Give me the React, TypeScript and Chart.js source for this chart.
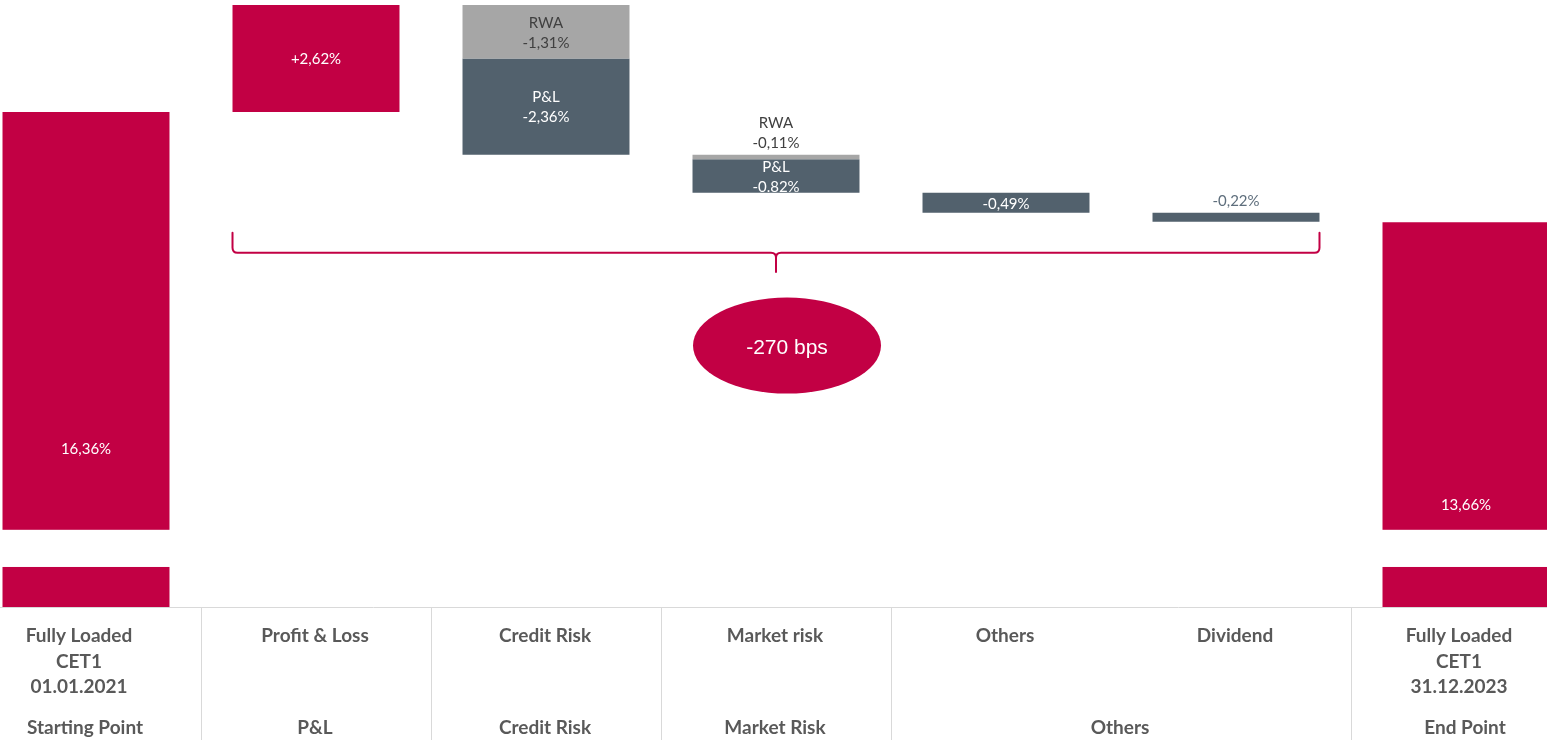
import React, { useEffect, useRef } from "react";
import { Chart, registerables } from "chart.js";

Chart.register(...registerables);

// ---------- data ----------
const categoryLabels: string[][] = [
  ["Fully Loaded", "CET1", "01.01.2021"],
  ["Profit & Loss"],
  ["Credit Risk"],
  ["Market risk"],
  ["Others"],
  ["Dividend"],
  ["Fully Loaded", "CET1", "31.12.2023"],
];
const groupLabels: string[] = ["Starting Point", "P&L", "Credit Risk", "Market Risk", "Others", "End Point"];
const groupSpans: number[] = [1, 1, 1, 1, 2, 1];

const startValue = 16.36;
const endValue = 13.66;
const levelLabels: (string | null)[] = ["16,36%", null, null, null, null, null, "13,66%"];

const rwaDeltas: (number | null)[] = [null, null, -1.31, -0.11, null, null, null];
const rwaLabels: (string | null)[] = [null, null, "-1,31%", "-0,11%", null, null, null];
const rwaTitles: (string | null)[] = [null, null, "RWA", "RWA", null, null, null];

const pnlDeltas: (number | null)[] = [null, 2.62, -2.36, -0.82, -0.49, -0.22, null];
const pnlLabels: (string | null)[] = [null, "+2,62%", "-2,36%", "-0.82%", "-0,49%", "-0,22%", null];
const pnlTitles: (string | null)[] = [null, null, "P&L", "P&L", null, null, null];

const totalLabel = "-270 bps";

// ---------- style / layout config ----------
const CRIMSON = "#C20044";
const SLATE = "#52616D";
const GREY = "#A6A6A6";
const Y_MIN = 4.24;
const Y_MAX = 19.1;
const BREAK_LOW = 5.22;
const BREAK_HIGH = 6.13;
const LEVEL_LABEL_AT: Record<number, number> = { 0: 8.13, 6: 6.76 };
const BRACKET = { top: 13.4, line: 12.91, tip: 12.44 };
const BUBBLE = { y: 10.64, rx: 94, ry: 48, dx: 11 };
const VALUE_FONT = '15px Lato';
const CAT_FONT = 'bold 19px Lato';

// build floating bars from the deltas
const n = categoryLabels.length;
const levelBars: ([number, number] | null)[] = new Array(n).fill(null);
const rwaBars: ([number, number] | null)[] = new Array(n).fill(null);
const pnlBars: ([number, number] | null)[] = new Array(n).fill(null);
levelBars[0] = [Y_MIN, startValue];
levelBars[n - 1] = [Y_MIN, endValue];
{
  let level = startValue;
  for (let i = 0; i < n; i++) {
    const r = rwaDeltas[i];
    if (r != null) {
      rwaBars[i] = [Math.min(level, level + r), Math.max(level, level + r)];
      level += r;
    }
    const p = pnlDeltas[i];
    if (p != null) {
      pnlBars[i] = [Math.min(level, level + p), Math.max(level, level + p)];
      level += p;
    }
  }
}

const overlayPlugin = {
  id: "overlay",
  afterDraw(chart: any) {
    const ctx: CanvasRenderingContext2D = chart.ctx;
    const area = chart.chartArea;
    const yS = chart.scales.y;
    const xS = chart.scales.x;
    const H = chart.height;
    const W = chart.width;
    ctx.save();

    // axis line & table separators
    ctx.strokeStyle = "#D9D9D9";
    ctx.lineWidth = 1;
    ctx.beginPath();
    ctx.moveTo(0, Math.round(area.bottom) + 0.5);
    ctx.lineTo(W, Math.round(area.bottom) + 0.5);
    let idx = 0;
    for (let g = 0; g < groupSpans.length - 1; g++) {
      idx += groupSpans[g];
      const xb = Math.round((xS.getPixelForValue(idx - 1) + xS.getPixelForValue(idx)) / 2) + 0.5;
      ctx.moveTo(xb, area.bottom);
      ctx.lineTo(xb, H);
    }
    ctx.stroke();

    // category labels
    ctx.fillStyle = "#595959";
    ctx.font = CAT_FONT;
    ctx.textAlign = "center";
    ctx.textBaseline = "middle";
    categoryLabels.forEach((lines, i) => {
      const x = xS.getPixelForValue(i) + (lines.length > 1 ? -7 : -1);
      lines.forEach((t, k) => ctx.fillText(t, x, area.bottom + 29 + k * 25.5));
    });
    idx = 0;
    groupLabels.forEach((t, g) => {
      const a = xS.getPixelForValue(idx);
      const b = xS.getPixelForValue(idx + groupSpans[g] - 1);
      ctx.fillText(t, (a + b) / 2 - 1, area.bottom + 121);
      idx += groupSpans[g];
    });

    // axis break on level bars
    const metaLevel = chart.getDatasetMeta(0);
    const yb1 = yS.getPixelForValue(BREAK_HIGH);
    const yb2 = yS.getPixelForValue(BREAK_LOW);
    metaLevel.data.forEach((el: any, i: number) => {
      if (!levelBars[i]) return;
      const p = el.getProps(["x", "width"], true);
      ctx.fillStyle = "#FFFFFF";
      ctx.fillRect(p.x - p.width / 2 - 1, yb1, p.width + 2, yb2 - yb1);
    });

    // value labels
    ctx.font = VALUE_FONT;
    metaLevel.data.forEach((el: any, i: number) => {
      const t = levelLabels[i];
      if (!t) return;
      const p = el.getProps(["x"], true);
      ctx.fillStyle = "#FFFFFF";
      ctx.fillText(t, p.x, yS.getPixelForValue(LEVEL_LABEL_AT[i]) + 1);
    });
    const drawSeg = (metaIndex: number, labels: (string | null)[], titles: (string | null)[], inColor: (i: number) => string, outColor: string) => {
      const meta = chart.getDatasetMeta(metaIndex);
      meta.data.forEach((el: any, i: number) => {
        const t = labels[i];
        if (!t) return;
        const p = el.getProps(["x", "y", "base"], true);
        const top = Math.min(p.y, p.base);
        const bot = Math.max(p.y, p.base);
        const h = bot - top;
        const lines = titles[i] ? [titles[i] as string, t] : [t];
        const need = lines.length === 2 ? 30 : 15;
        if (h >= need) {
          ctx.fillStyle = inColor(i);
          const mid = (top + bot) / 2 + 1;
          const start = mid - ((lines.length - 1) * 20) / 2;
          lines.forEach((s, k) => ctx.fillText(s, p.x, start + k * 20));
        } else {
          ctx.fillStyle = outColor;
          const last = top - 12;
          lines.forEach((s, k) => ctx.fillText(s, p.x, last - (lines.length - 1 - k) * 20));
        }
      });
    };
    drawSeg(1, rwaLabels, rwaTitles, () => "#404040", "#404040");
    drawSeg(2, pnlLabels, pnlTitles, () => "#FFFFFF", "#5E6E7C");

    // bracket
    const metaP = chart.getDatasetMeta(2);
    const first = pnlDeltas.findIndex((v) => v != null);
    let last = -1;
    pnlDeltas.forEach((v, i) => { if (v != null) last = i; });
    const e1 = metaP.data[first].getProps(["x", "width"], true);
    const e2 = metaP.data[last].getProps(["x", "width"], true);
    const xl = e1.x - e1.width / 2;
    const xr = e2.x + e2.width / 2;
    const xm = (xl + xr) / 2;
    const yt = yS.getPixelForValue(BRACKET.top);
    const yl = yS.getPixelForValue(BRACKET.line);
    const ytip = yS.getPixelForValue(BRACKET.tip);
    const r = 5;
    ctx.strokeStyle = CRIMSON;
    ctx.lineWidth = 2;
    ctx.lineCap = "round";
    ctx.lineJoin = "round";
    ctx.beginPath();
    ctx.moveTo(xl, yt);
    ctx.lineTo(xl, yl - r);
    ctx.quadraticCurveTo(xl, yl, xl + r, yl);
    ctx.lineTo(xm - r, yl);
    ctx.quadraticCurveTo(xm, yl, xm, yl + r);
    ctx.lineTo(xm, ytip);
    ctx.moveTo(xm, yl + r);
    ctx.quadraticCurveTo(xm, yl, xm + r, yl);
    ctx.lineTo(xr - r, yl);
    ctx.quadraticCurveTo(xr, yl, xr, yl - r);
    ctx.lineTo(xr, yt);
    ctx.stroke();

    // bubble
    const cy = yS.getPixelForValue(BUBBLE.y);
    const cx = xm + BUBBLE.dx;
    ctx.fillStyle = CRIMSON;
    ctx.beginPath();
    ctx.ellipse(cx, cy, BUBBLE.rx, BUBBLE.ry, 0, 0, Math.PI * 2);
    ctx.fill();
    ctx.fillStyle = "#FFFFFF";
    ctx.font = '21px "Liberation Sans"';
    ctx.fillText(totalLabel, cx, cy + 3);

    ctx.restore();
  },
};

export default function App() {
  const ref = useRef<HTMLCanvasElement | null>(null);
  useEffect(() => {
    if (!ref.current) return;
    const chart = new Chart(ref.current, {
      type: "bar",
      data: {
        labels: categoryLabels.map((l) => l.join(" ")),
        datasets: [
          { label: "Level", data: levelBars as any, backgroundColor: CRIMSON, grouped: false, borderWidth: 0, borderSkipped: false } as any,
          { label: "RWA", data: rwaBars as any, backgroundColor: GREY, grouped: false, borderWidth: 0, borderSkipped: false } as any,
          {
            label: "P&L",
            data: pnlBars as any,
            backgroundColor: pnlDeltas.map((v) => (v != null && v > 0 ? CRIMSON : SLATE)),
            grouped: false,
            borderWidth: 0,
            borderSkipped: false,
          } as any,
        ],
      },
      options: {
        animation: false,
        responsive: false,
        devicePixelRatio: 1,
        layout: { padding: { top: 0, bottom: 133, left: 0, right: 0 } },
        datasets: { bar: { categoryPercentage: 1, barPercentage: 0.726 } } as any,
        plugins: { legend: { display: false }, tooltip: { enabled: false } },
        scales: {
          x: { display: false, offset: true },
          y: { display: false, min: Y_MIN, max: Y_MAX },
        },
      },
      plugins: [overlayPlugin],
    });
    (document as any).fonts?.load?.(CAT_FONT).then(() => chart.draw()).catch(() => {});
    return () => chart.destroy();
  }, []);
  return (
    <div style={{ position: "fixed", left: 0, top: 0, width: 1547, height: 740, overflow: "hidden", background: "#fff" }}>
      <canvas ref={ref} width={1610} height={740} style={{ position: "absolute", left: -29, top: 0 }} />
    </div>
  );
}
